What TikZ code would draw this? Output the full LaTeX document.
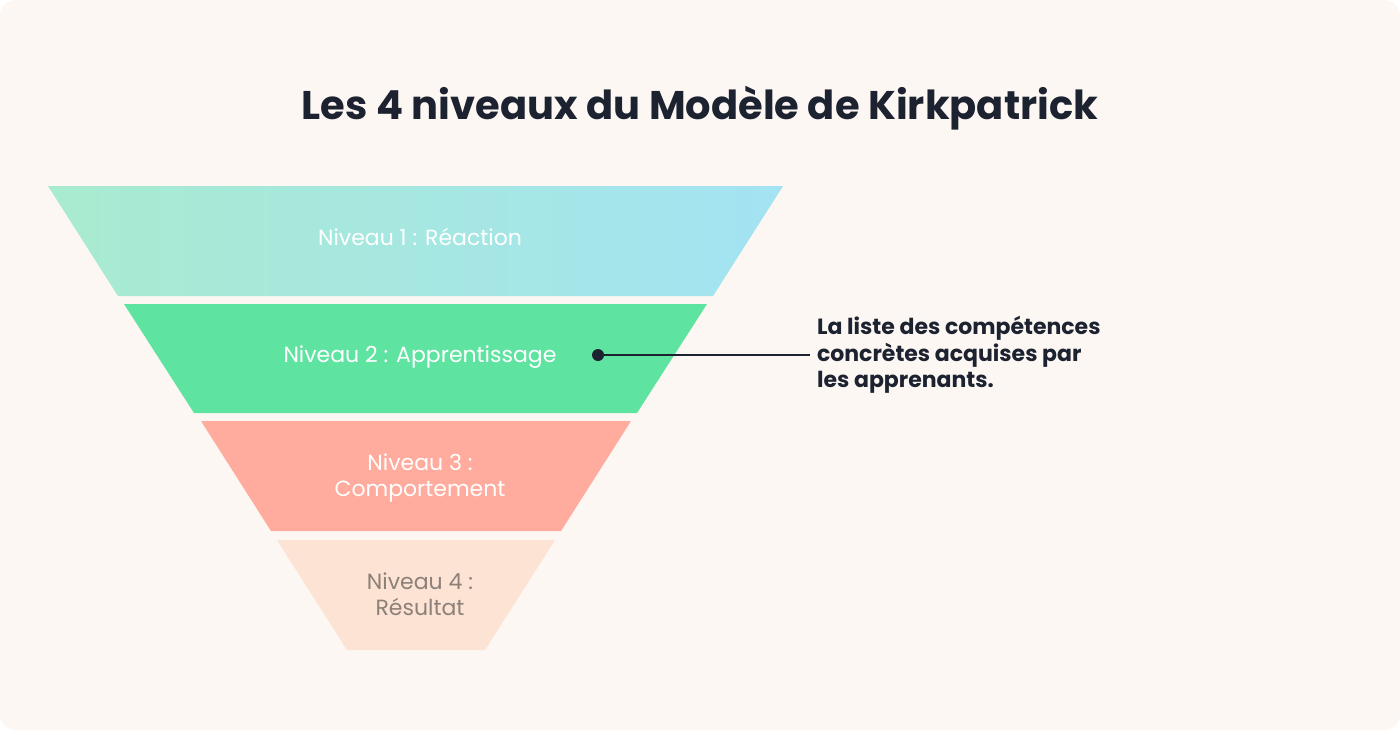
\documentclass[tikz,border=0pt]{standalone}
\usepackage{fontspec}
\setmainfont{Poppins}
\usetikzlibrary{positioning}
\definecolor{fond}{HTML}{FCF7F3}
\definecolor{vertclair}{HTML}{A8EBCF}
\definecolor{bleuclair}{HTML}{A3E3F3}
\definecolor{vert}{HTML}{5FE3A1}
\definecolor{saumon}{HTML}{FFAB9E}
\definecolor{peche}{HTML}{FDE3D3}
\definecolor{encre}{HTML}{1C2230}
\definecolor{gris}{HTML}{8C8079}
\tikzset{
  niveau/.style={font=\fontsize{11}{13}\selectfont, text=white, align=center},
}
\begin{document}
\begin{tikzpicture}[x=0.5pt,y=-0.5pt]
		\fill[white] (0,0) rectangle (1400,730);
		\fill[fond, rounded corners=8pt] (0,0) rectangle (1400,730);
		\node[font=\fontsize{20}{24}\selectfont\bfseries, text=encre] (titre) at (700,108) {Les 4 niveaux du Modèle de Kirkpatrick};
		% bandes de l'entonnoir
		\shade[left color=vertclair, right color=bleuclair] (48,186) -- (783,186) -- (713,296) -- (118,296) -- cycle;
		\fill[vert] (124,304) -- (707,304) -- (637,413) -- (194,413) -- cycle;
		\fill[saumon] (201,421) -- (631,421) -- (561,531) -- (271,531) -- cycle;
		\fill[peche] (277,540) -- (555,540) -- (485,650) -- (347,650) -- cycle;
		\node[niveau] (n1) at (420,237) {Niveau 1 : Réaction};
		\node[niveau] (n2) at (420,357) {Niveau 2 : Apprentissage};
		\node[niveau] (n3) at (420,478) {Niveau 3 :\\Comportement};
		\node[niveau, text=gris] (n4) at (420,594) {Niveau 4 :\\Résultat};
		% annotation
		\coordinate (point) at (598,355);
		\node[anchor=west, font=\fontsize{11}{13.3}\selectfont\bfseries, text=encre, align=left] (note) at (810,355) {La liste des compétences\\concrètes acquises par\\les apprenants.};
		\fill[encre] (point) circle (6);
		\draw[encre, line width=1pt] (point) -- (note.west);
	\end{tikzpicture}
\end{document}
